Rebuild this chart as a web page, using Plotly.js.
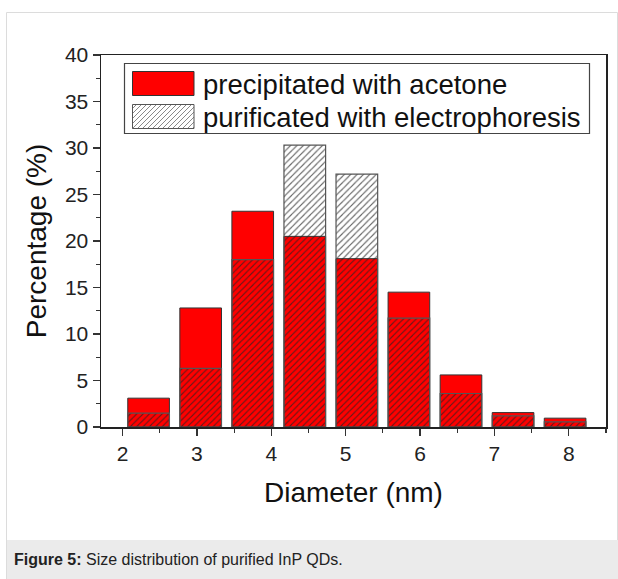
<!DOCTYPE html>
<html>
<head>
<meta charset="utf-8">
<script src="https://cdn.plot.ly/plotly-3.0.1.min.js"></script>
<style>html,body{margin:0;padding:0;background:#fff;}#chart{width:618px;height:579px;}</style>
</head>
<body>
<div id="chart"></div>
<script>
// Data
var diameters = [2.35, 3.05, 3.75, 4.45, 5.15, 5.85, 6.55, 7.25, 7.95];
var acetone = [3.1, 12.8, 23.2, 20.5, 18.1, 14.5, 5.6, 1.55, 0.95];
var electro = [1.5, 6.3, 18.0, 30.3, 27.2, 11.7, 3.6, 1.2, 0.55];
var seriesNames = ['precipitated with acetone', 'purificated with electrophoresis'];
var xTicks = [2, 3, 4, 5, 6, 7, 8];
var yTicks = [0, 5, 10, 15, 20, 25, 30, 35, 40];

var W = 618, H = 579;
var ML = 101, MR = 12, MT = 55, MB = 152;
var PW = W - ML - MR, PH = H - MT - MB;
function px(x){ return (x - ML) / PW; }
function py(y){ return (H - MB - y) / PH; }

var FONT = 'Arial, "Liberation Sans", sans-serif';

var traces = [
  {
    type: 'bar', x: diameters, y: acetone, width: 0.56, name: seriesNames[0],
    marker: {color: '#ff0000', line: {color: '#333', width: 1}},
    hoverinfo: 'x+y'
  },
  {
    type: 'bar', x: diameters, y: electro, width: 0.56, name: seriesNames[1],
    marker: {
      color: '#333',
      line: {color: '#555', width: 1.2},
      pattern: {shape: '/', fillmode: 'replace', bgcolor: 'rgba(0,0,0,0)', fgcolor: '#222', fgopacity: 0.7, size: 4.5, solidity: 0.25}
    },
    hoverinfo: 'x+y'
  }
];

var shapes = [];
var annotations = [];

// outer frame & caption band
shapes.push({type:'rect', xref:'paper', yref:'paper', x0:px(6.5), x1:px(617.5), y0:py(579.5), y1:py(12.5), line:{color:'#dcdcdc', width:1}, fillcolor:'rgba(0,0,0,0)', layer:'below'});
shapes.push({type:'rect', xref:'paper', yref:'paper', x0:px(7), x1:px(618), y0:py(579), y1:py(540), line:{width:0}, fillcolor:'#ebebeb', layer:'below'});
annotations.push({xref:'paper', yref:'paper', x:px(12), y:py(559), xanchor:'left', yanchor:'middle', showarrow:false,
  text:'<b>Figure 5:</b> Size distribution of purified InP QDs.', font:{family:FONT, size:16, color:'#222'}});

// legend box
var LX0 = 124.5, LX1 = 589.5, LY0 = 63.5, LY1 = 133.5;
shapes.push({type:'rect', xref:'paper', yref:'paper', x0:px(LX0), x1:px(LX1), y0:py(LY1), y1:py(LY0), line:{color:'#444', width:1.2}, fillcolor:'#fff'});
var SX0 = 132.5, SX1 = 194;
var rows = [[71.5, 95.5], [104.5, 128.5]];
shapes.push({type:'rect', xref:'paper', yref:'paper', x0:px(SX0), x1:px(SX1), y0:py(rows[0][1]), y1:py(rows[0][0]), line:{color:'#333', width:1}, fillcolor:'#ff0000'});
// hatched symbol
(function(){
  var x0 = SX0, x1 = SX1, y0 = rows[1][0], y1 = rows[1][1];
  for (var k = x0 + y0 + 4; k < x1 + y1; k += 5) {
    var xa = Math.max(x0, k - y1), xb = Math.min(x1, k - y0);
    if (xb <= xa) continue;
    shapes.push({type:'line', xref:'paper', yref:'paper', x0:px(xa), y0:py(k - xa), x1:px(xb), y1:py(k - xb), line:{color:'rgba(40,40,40,0.55)', width:1}});
  }
  shapes.push({type:'rect', xref:'paper', yref:'paper', x0:px(x0), x1:px(x1), y0:py(y1), y1:py(y0), line:{color:'#555', width:1}, fillcolor:'rgba(0,0,0,0)'});
})();
for (var i = 0; i < 2; i++) {
  annotations.push({xref:'paper', yref:'paper', x:px(201), y:py((rows[i][0] + rows[i][1]) / 2 + 1), xanchor:'left', yanchor:'middle', showarrow:false,
    text: seriesNames[i], font:{family:FONT, size:27.5, color:'#111'}});
}

var layout = {
  width: W, height: H,
  margin: {l: ML, r: MR, t: MT, b: MB, pad: 0},
  paper_bgcolor: '#fff', plot_bgcolor: '#fff',
  barmode: 'overlay',
  showlegend: false,
  font: {family: FONT, color: '#222'},
  xaxis: {
    range: [1.71, 8.5], tickvals: xTicks, ticktext: xTicks.map(String),
    ticks: 'outside', ticklen: 7, tickwidth: 1.2, tickcolor: '#333',
    minor: {dtick: 0.5, tick0: 0, ticks: 'outside', ticklen: 4, tickwidth: 1.2, tickcolor: '#333', showgrid: false},
    showline: true, linecolor: '#222', linewidth: 1.5, mirror: true,
    showgrid: false, zeroline: false,
    tickfont: {family: FONT, size: 21, color: '#222'},
    title: {text: 'Diameter (nm)', font: {family: FONT, size: 28, color: '#111'}, standoff: 18}
  },
  yaxis: {
    range: [0, 40], tickvals: yTicks, ticktext: yTicks.map(String),
    ticks: 'outside', ticklen: 7, tickwidth: 1.2, tickcolor: '#333',
    minor: {dtick: 2.5, tick0: 0, ticks: 'outside', ticklen: 4, tickwidth: 1.2, tickcolor: '#333', showgrid: false},
    showline: true, linecolor: '#222', linewidth: 1.5, mirror: true,
    showgrid: false, zeroline: false,
    tickfont: {family: FONT, size: 21, color: '#222'},
    title: {text: 'Percentage (%)', font: {family: FONT, size: 28, color: '#111'}, standoff: 10}
  },
  shapes: shapes,
  annotations: annotations
};

Plotly.newPlot('chart', traces, layout, {displayModeBar: false, staticPlot: true});
</script>
</body>
</html>
